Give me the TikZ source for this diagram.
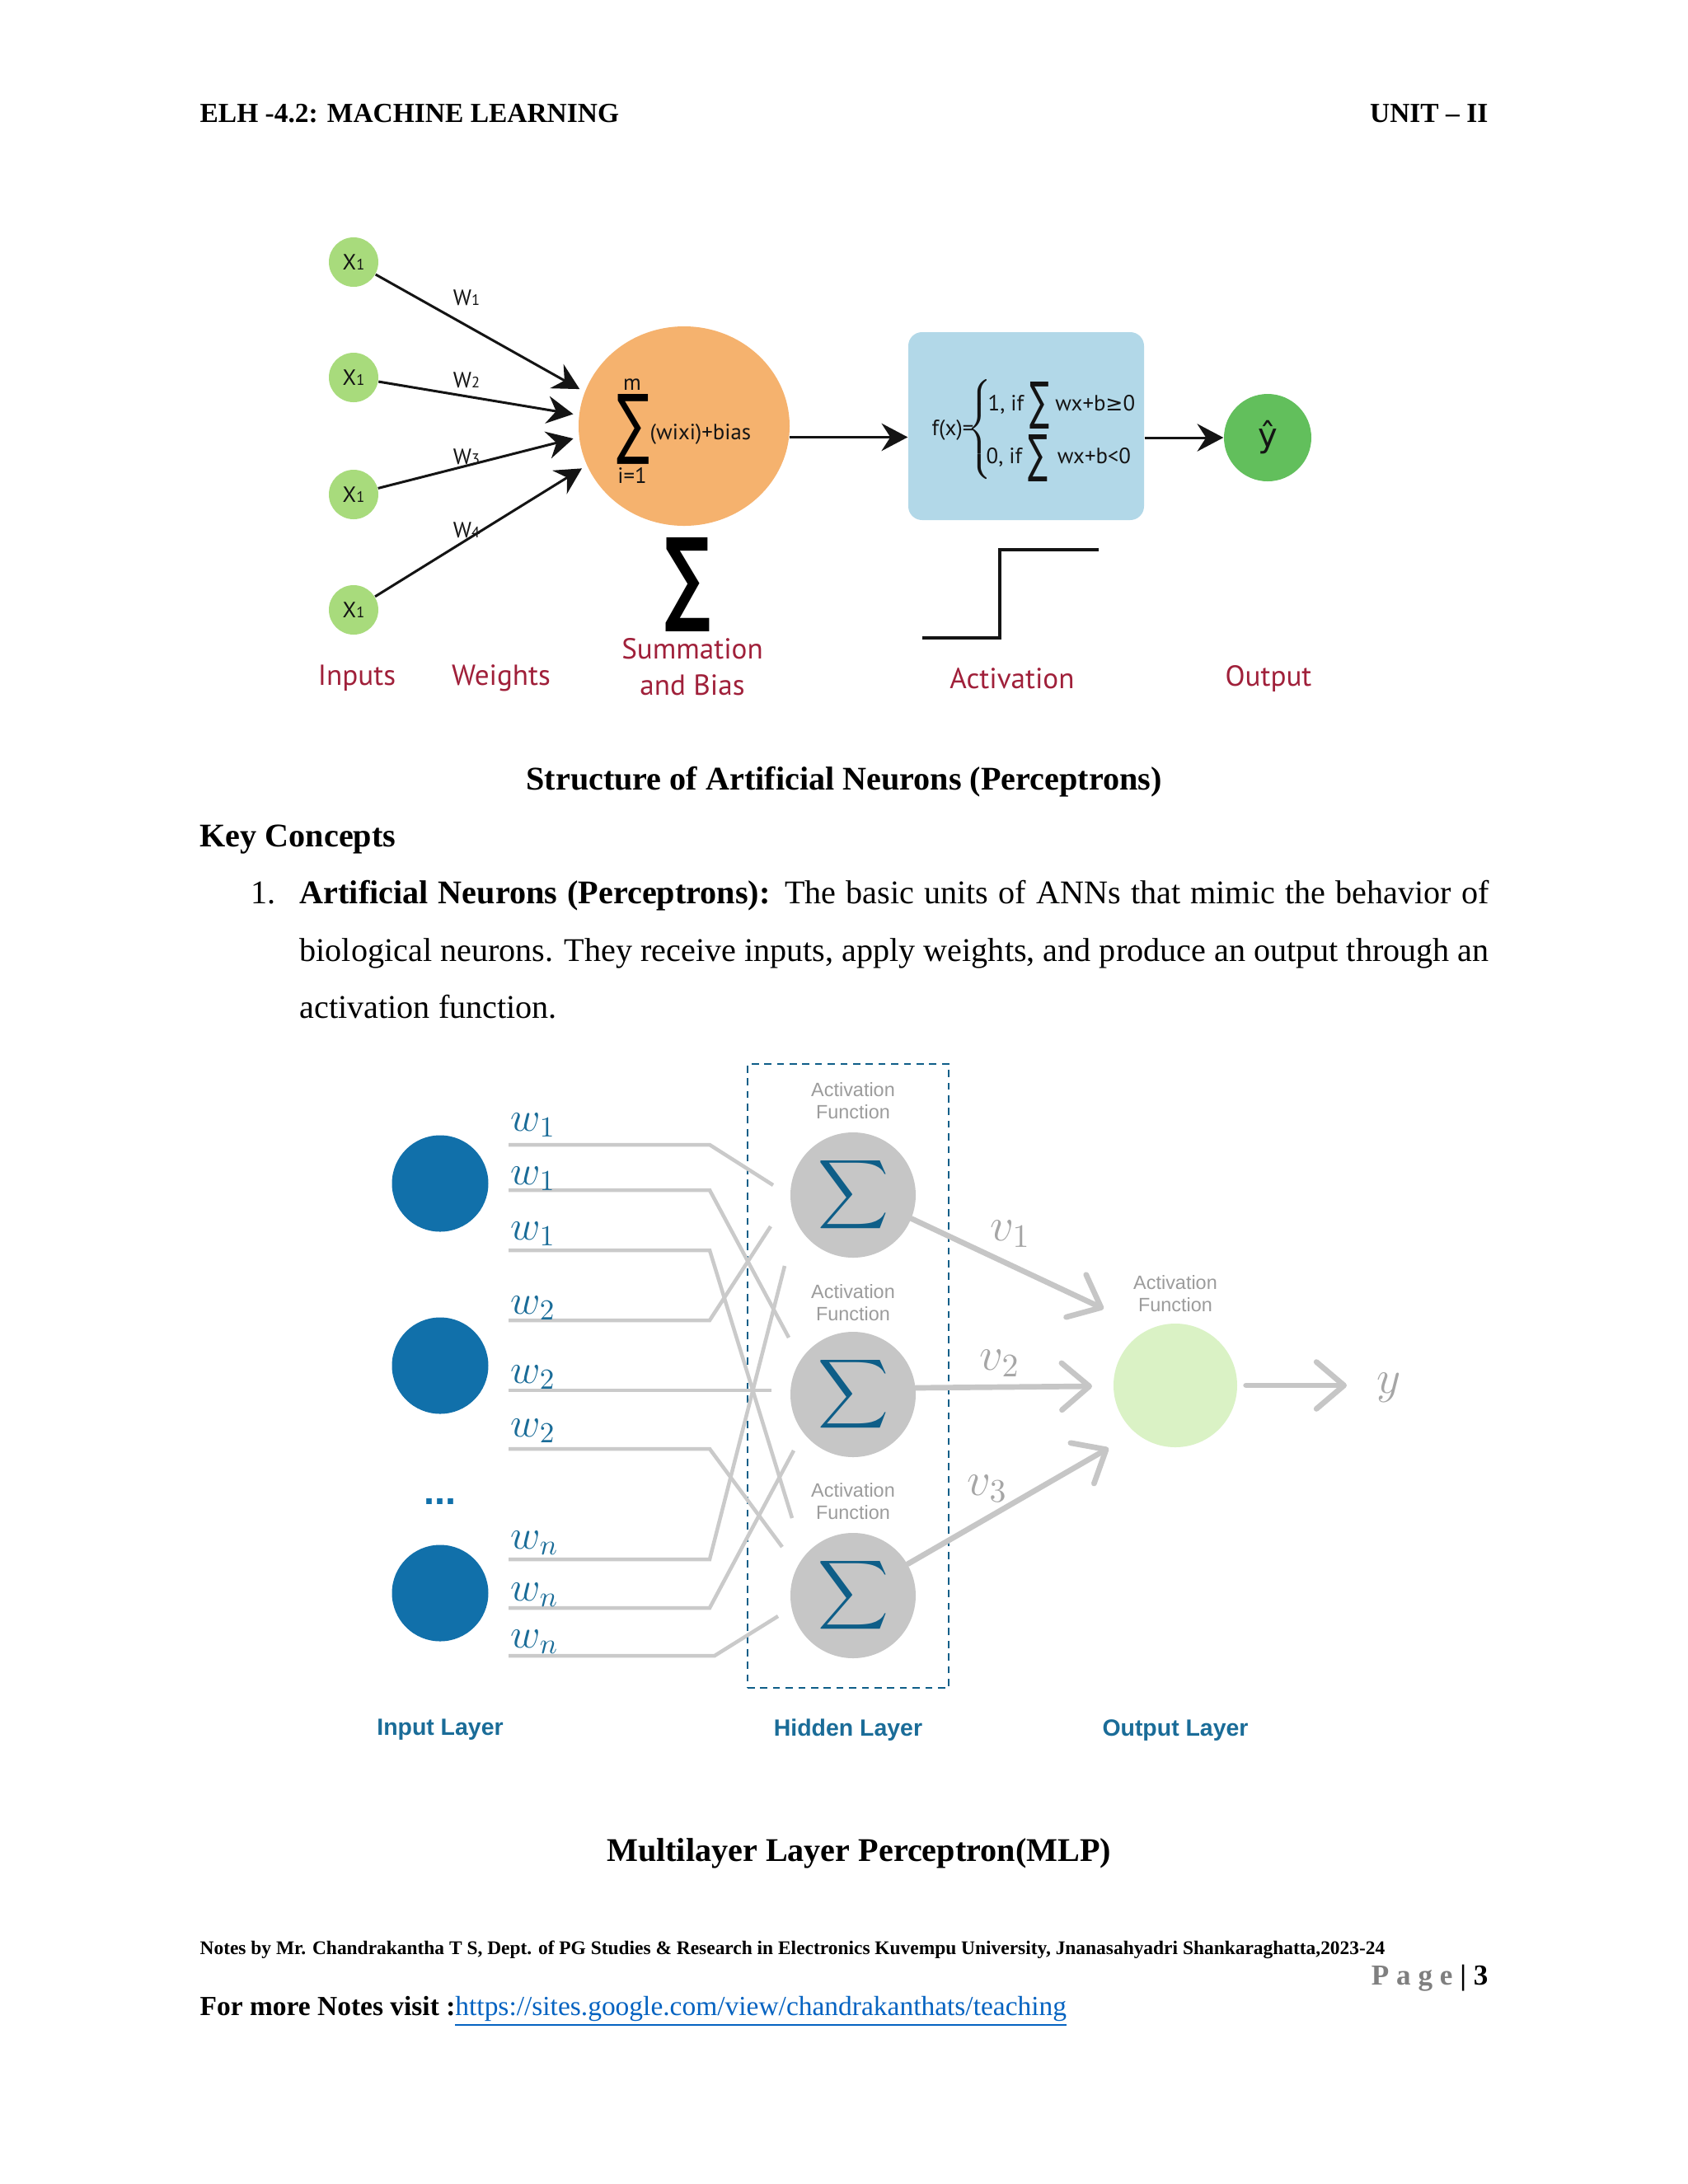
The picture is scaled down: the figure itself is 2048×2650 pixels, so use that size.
\documentclass[tikz,border=0pt]{standalone}
\usepackage{fix-cm}
\usepackage[no-math]{fontspec}
\usepackage{xcolor}
\usepackage{graphicx}
\usepackage{amsmath}
\usetikzlibrary{arrows.meta,positioning,shapes.geometric,calc}
\setmainfont{Liberation Serif}
\newfontfamily\pcfont{PT Sans}
\newfontfamily\symfont{DejaVu Sans}
\newfontfamily\mlpfont{Liberation Sans}
\newlength\pxu
\setlength\pxu{0.298828pt}
\definecolor{pcInk}{HTML}{141414}
\definecolor{pcLeaf}{HTML}{A8DB7C}
\definecolor{pcOrange}{HTML}{F5B26E}
\definecolor{pcSky}{HTML}{B2D8E8}
\definecolor{pcGreen}{HTML}{62BF5C}
\definecolor{pcRed}{HTML}{A0203A}
\definecolor{mlpBlue}{HTML}{1170AA}
\definecolor{mlpTeal}{HTML}{0E5E88}
\definecolor{mlpLabel}{HTML}{1A6C98}
\definecolor{mlpGray}{HTML}{C6C6C6}
\definecolor{mlpWire}{HTML}{CACACA}
\definecolor{mlpText}{HTML}{9C9C9C}
\definecolor{mlpVgray}{HTML}{A6A6A6}
\definecolor{mlpLime}{HTML}{DAF2C5}
\definecolor{pgGray}{HTML}{7F7F7F}
\definecolor{linkBlue}{HTML}{0563C1}
\tikzset{
  % Page text
  hdr/.style={font=\fontsize{10}{12}\selectfont\bfseries,inner sep=0pt},
  body/.style={font=\fontsize{12}{14}\selectfont,inner sep=0pt,anchor=base west},
  captxt/.style={font=\fontsize{12}{14}\selectfont\bfseries,inner sep=0pt},
  % Perceptron: input circle (light green)
  inbox/.style={circle,fill=pcLeaf,minimum size=60*\pxu,inner sep=0pt,
    font=\pcfont\fontsize{8}{9}\selectfont,text=pcInk},
  % Summation (orange)
  sumbox/.style={ellipse,fill=pcOrange,minimum width=256*\pxu,
    minimum height=242*\pxu,inner sep=0pt},
  % Activation box (light blue)
  actbox/.style={rectangle,rounded corners=5pt,fill=pcSky,
    minimum width=286*\pxu,minimum height=228*\pxu,inner sep=0pt},
  % Output circle (green)
  outbox/.style={circle,fill=pcGreen,minimum size=106*\pxu,inner sep=0pt,
    font=\symfont\fontsize{12}{14}\selectfont,text=pcInk},
  plbl/.style={font=\pcfont\fontsize{10.5}{13}\selectfont,text=pcRed,inner sep=0pt},
  wlbl/.style={font=\pcfont\fontsize{8}{9}\selectfont,text=pcInk,inner sep=0pt},
  ftxt/.style={font=\pcfont\fontsize{8}{9}\selectfont,text=pcInk,inner sep=0pt},
  arr/.style={-{Stealth[length=9.5pt,width=10pt,inset=3.2pt]},line width=0.9pt,color=pcInk},
  stepl/.style={line width=1.3pt,color=pcInk},
  % MLP nodes
  inode/.style={circle,fill=mlpBlue,minimum size=117*\pxu,inner sep=0pt},
  hnode/.style={circle,fill=mlpGray,minimum size=152*\pxu,inner sep=0pt,text=mlpTeal},
  onode/.style={circle,fill=mlpLime,minimum size=150*\pxu,inner sep=0pt},
  hidbox/.style={draw=mlpTeal,line width=0.8pt,dash pattern=on 2.6pt off 2pt,
    minimum width=244*\pxu,minimum height=757*\pxu,inner sep=0pt},
  % Wires and arrows
  wire/.style={draw=mlpWire,line width=1.35pt},
  varr/.style={-{Straight Barb[round,length=10pt,width=17pt]},line width=2pt,
    color=mlpGray,line cap=round},
  wnum/.style={font=\fontsize{15}{16}\selectfont,text=mlpLabel,inner sep=0pt,anchor=base west},
  vnum/.style={font=\fontsize{17}{18}\selectfont,text=mlpVgray,inner sep=0pt,anchor=base west},
  actlbl/.style={font=\mlpfont\fontsize{7}{8}\selectfont,text=mlpText,align=center,inner sep=0pt},
  laylbl/.style={font=\mlpfont\bfseries\fontsize{8.5}{10}\selectfont,text=mlpLabel,inner sep=0pt},
}
\newcommand\hsig{\resizebox*{86\pxu}{94\pxu}{$\displaystyle\sum$}}
\begin{document}
\begin{tikzpicture}[x=0.298828pt,y=-0.298828pt]

  \fill[white] (0,0) rectangle (2048,2650);
  \useasboundingbox (0,0) rectangle (2048,2650);

  % header
  \node[hdr,anchor=base west] (head) at (242,148) {ELH -4.2: MACHINE LEARNING};
  \node[hdr,anchor=base east] (unit) at (1806,148) {UNIT -- II};

  % perceptron
  \foreach \i/\yy in {1/318,2/458,3/600,4/740}
    \node[inbox] (x\i) at (429,\yy) {X{\fontsize{5.5}{6}\selectfont 1}};

  \node[sumbox] (sum) at (830,517) {};
  \node[ftxt] (sm) at (767,467) {m};
  \node[inner sep=0pt] (ssig) at (768,521) {\resizebox{40\pxu}{67\pxu}{\symfont ∑}};
  \node[ftxt] (si) at (767,577) {i=1};
  \node[ftxt,anchor=base west] (sb) at (788,533) {(wixi)+bias};

  \foreach \i/\a in {1/161,2/174,3/186,4/202}
    \draw[arr,shorten >=2pt] (x\i) -- (sum.\a);

  \node[wlbl] (w1) at (566,361) {W{\fontsize{5.5}{6}\selectfont 1}};
  \node[wlbl] (w2) at (566,461) {W{\fontsize{5.5}{6}\selectfont 2}};
  \node[wlbl] (w3) at (566,554) {W{\fontsize{5.5}{6}\selectfont 3}};
  \node[wlbl] (w4) at (566,643) {W{\fontsize{5.5}{6}\selectfont 4}};

  \node[inner sep=0pt] (bsig) at (834,709) {\resizebox{56\pxu}{90\pxu}{\symfont\bfseries ∑}};

  \node[actbox] (act) at (1245,517) {};
  \draw[arr] (sum.-6) -- (sum.-6 -| act.west);
  \node[ftxt,anchor=east] (fx) at (1182,522) {f(x)=};
  \node[inner sep=0pt,text=pcInk] (brace) at (1190,521)
    {$\left\{\vcenter{\hbox{\rule{0pt}{35pt}}}\right.$};
  \node[ftxt,anchor=base west] (c1) at (1198,498)
    {1, if \raisebox{-10\pxu}{\resizebox{24\pxu}{45\pxu}{\symfont ∑}} wx+b{\symfont\fontsize{7.5}{8}\selectfont ≥}0};
  \node[ftxt,anchor=base west] (c2) at (1196,562)
    {0, if \raisebox{-10\pxu}{\resizebox{24\pxu}{45\pxu}{\symfont ∑}}\, wx+b<0};

  \node[outbox] (yhat) at (1538,531) {ŷ};
  \draw[arr] (act.east |- yhat) -- (yhat);

  \draw[stepl] (1119,774) -- (1213,774) -- (1213,667) -- (1333,667);

  \node[plbl] (linp) at (433,823) {Inputs};
  \node[plbl] (lwt) at (608,823) {Weights};
  \node[plbl,align=center] (lsum) at (840,809) {Summation\\and Bias};
  \node[plbl] (lact) at (1228,823) {Activation};
  \node[plbl] (lout) at (1539,823) {Output};

  % text between the pictures
  \node[captxt,anchor=base] (cap1) at (1024,958) {Structure of Artificial Neurons (Perceptrons)};
  \node[captxt,anchor=base west] (key) at (242,1027) {Key Concepts};
  \node[body] (n1) at (304,1096) {1.};
  \node[body] (l1) at (363,1096) {\makebox[1443\pxu][s]{\textbf{Artificial Neurons (Perceptrons):} The basic units of ANNs that mimic the behavior of}};
  \node[body] (l2) at (363,1166) {\makebox[1443\pxu][s]{biological neurons. They receive inputs, apply weights, and produce an output through an}};
  \node[body] (l3) at (363,1235) {activation function.};

  % multilayer perceptron
  \node[hidbox] (hbox) at (1029,1669.5) {};

  \foreach \i/\yy in {1/1436,2/1657,3/1933}
    \node[inode] (in\i) at (534,\yy) {};
  \node[font=\mlpfont\bfseries\fontsize{14}{14}\selectfont,text=mlpBlue,inner sep=0pt] (dots) at (534,1822) {...};

  \foreach \k/\ys/\xb/\xe/\ye in {1/1389/861/938/1438,2/1444/861/957/1623,
      3/1517/861/961/1842,4/1602/861/935/1488,5/1687/861/936/1687,
      6/1758/861/949/1877,7/1892/861/952/1536,8/1951/861/963/1760,
      9/2009/867/944/1961}{
    \coordinate (ws\k) at (617,\ys);
    \coordinate (we\k) at (\xe,\ye);
    \draw[wire] (ws\k) -- (\xb,\ys) -- (we\k);
  }

  \foreach \k/\yb/\t in {1/1372/1,2/1437/1,3/1504/1,4/1594/2,5/1678/2,
      6/1743/2,7/1879/n,8/1942/n,9/1999/n}
    \node[wnum] (wl\k) at (619,\yb) {$w_{\t}$};

  \node[hnode] (h1) at (1035,1450) {\hsig};
  \node[hnode] (h2) at (1035,1692) {\hsig};
  \node[hnode] (h3) at (1035,1936) {\hsig};
  \node[onode] (out) at (1426,1681) {};

  \node[actlbl,above=4.5pt of h1] (a1) {Activation\\Function};
  \node[actlbl,above=3.5pt of h2] (a2) {Activation\\Function};
  \node[actlbl,above=4.5pt of h3] (a3) {Activation\\Function};
  \node[actlbl,above=4pt of out] (a4) {Activation\\Function};

  \coordinate (t1) at (1339,1588);
  \coordinate (t2) at (1325,1682);
  \coordinate (t3) at (1345,1757);
  \coordinate (ty) at (1634,1681);
  \draw[varr] (h1.-22) -- (t1);
  \draw[varr] (h2.6) -- (t2);
  \draw[varr] (h3.30) -- (t3);
  \draw[varr,shorten <=3pt] (out.east) -- (ty);

  \node[vnum] (v1) at (1201,1505) {$v_1$};
  \node[vnum] (v2) at (1188,1662) {$v_2$};
  \node[vnum] (v3) at (1173,1814) {$v_3$};
  \node[vnum] (yout) at (1670,1690) {$y$};

  \node[laylbl] (linl) at (534,2099) {Input Layer};
  \node[laylbl] (lhid) at (1029,2099) {Hidden Layer};
  \node[laylbl] (lotl) at (1426,2099) {Output Layer};

  \node[captxt,anchor=base] (cap2) at (1042,2258) {Multilayer Layer Perceptron(MLP)};

  % footer
  \node[anchor=base west,inner sep=0pt,font=\bfseries\fontsize{7}{9}\selectfont] (notes) at (242,2371)
    {Notes by Mr. Chandrakantha T S, Dept. of PG Studies \& Research in Electronics Kuvempu University, Jnanasahyadri Shankaraghatta,2023-24};
  \node[anchor=base east,inner sep=0pt,font=\fontsize{10.5}{12}\selectfont] (pg) at (1806,2408)
    {\textcolor{pgGray}{\textbf{P a g e}} \textbf{| 3}};
  \node[anchor=base west,inner sep=0pt,font=\fontsize{10}{12}\selectfont] (more) at (242,2445)
    {\textbf{For more Notes visit :}\textcolor{linkBlue}{\underline{https://sites.google.com/view/chandrakanthats/teaching}}};

\end{tikzpicture}
\end{document}
